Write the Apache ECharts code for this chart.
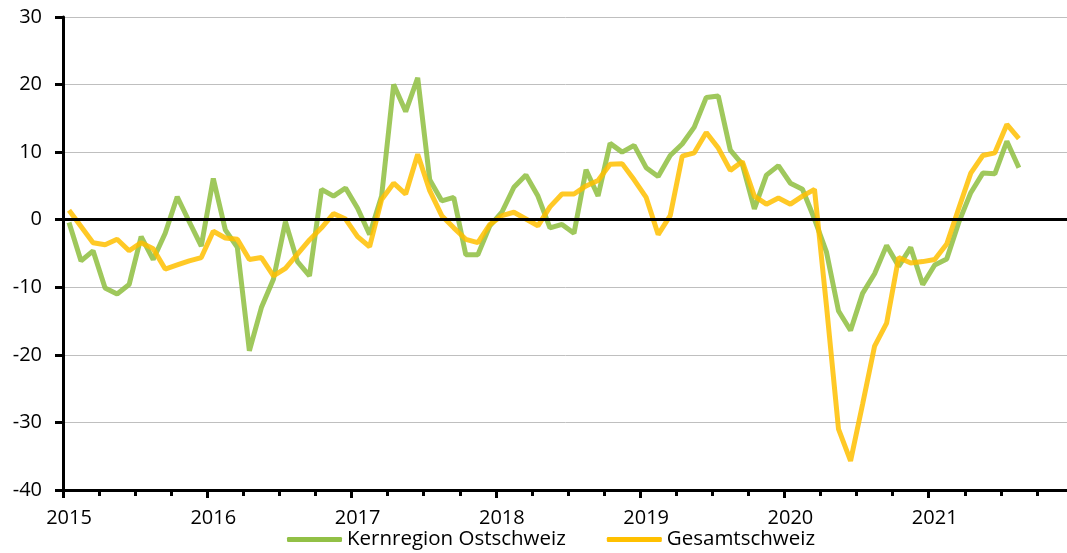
<!DOCTYPE html>
<html>
<head>
<meta charset="utf-8">
<script src="https://cdn.jsdelivr.net/npm/echarts@6/dist/echarts.min.js"></script>
<style>
  html, body { margin: 0; padding: 0; background: #fff; }
  #chart { width: 1067px; height: 553px; }
</style>
</head>
<body>
<div id="chart"></div>
<script>
// monthly values, Jan 2015 - Aug 2021
var startYear = 2015;
var seriesNames = ['Kernregion Ostschweiz', 'Gesamtschweiz'];
var ostschweiz = [
  -0.4, -6.1, -4.6, -10.1, -11.0, -9.6, -2.5, -5.9, -2.0, 3.4, -0.3, -3.9,
  6.1, -1.5, -4.1, -19.4, -13.0, -8.8, -0.3, -6.2, -8.3, 4.5, 3.5, 4.7,
  1.7, -2.2, 3.5, 20.0, 16.0, 21.0, 5.9, 2.8, 3.3, -5.2, -5.2, -0.9,
  1.1, 4.8, 6.6, 3.5, -1.2, -0.7, -2.0, 7.4, 3.5, 11.3, 10.0, 11.0,
  7.7, 6.4, 9.5, 11.2, 13.7, 18.1, 18.3, 10.3, 8.2, 1.6, 6.6, 8.0,
  5.4, 4.5, 0.1, -4.8, -13.5, -16.4, -10.9, -8.0, -3.8, -6.9, -4.1, -9.6,
  -6.7, -5.8, -0.4, 4.0, 6.9, 6.8, 11.6, 7.7
];
var gesamtschweiz = [
  1.4, -1.0, -3.4, -3.7, -2.9, -4.6, -3.4, -4.3, -7.3, -6.7, -6.1, -5.6,
  -1.7, -2.7, -2.9, -5.9, -5.6, -8.3, -7.2, -5.1, -3.0, -1.2, 0.9, 0.1,
  -2.5, -4.0, 3.0, 5.4, 3.8, 9.7, 4.3, 0.6, -1.2, -2.9, -3.4, -0.7,
  0.6, 1.1, 0.1, -0.9, 1.9, 3.8, 3.8, 5.0, 5.8, 8.2, 8.3, 5.9,
  3.3, -2.2, 0.6, 9.4, 9.9, 12.9, 10.6, 7.3, 8.6, 3.5, 2.3, 3.2,
  2.3, 3.5, 4.5, -12.8, -31.0, -35.7, -27.3, -18.7, -15.3, -5.6, -6.4, -6.2,
  -5.9, -3.6, 1.7, 6.9, 9.5, 9.9, 14.1, 12.0
];
var yTicks = [-40, -30, -20, -10, 0, 10, 20, 30];

// place each month in the middle of its slot on a year scale
function toPoints(values) {
  var pts = [];
  for (var i = 0; i < values.length; i++) {
    pts.push([startYear + (i + 0.5) / 12, values[i]]);
  }
  return pts;
}

var fontName = 'Open Sans';
var chart = echarts.init(document.getElementById('chart'));
chart.setOption({
  animation: false,
  grid: { left: 63, right: -6, top: 17, bottom: 63, outerBoundsMode: 'none', containLabel: false },
  xAxis: {
    type: 'value',
    min: 2015,
    max: 2022,
    interval: 1,
    axisLine: { onZero: false, lineStyle: { color: '#000', width: 3 } },
    axisTick: { show: true, length: 8, lineStyle: { color: '#000', width: 3 } },
    minorTick: { show: true, splitNumber: 4, length: 6, lineStyle: { color: '#000', width: 3 } },
    splitLine: { show: false },
    axisLabel: {
      margin: 18,
      color: '#000',
      fontFamily: fontName,
      fontSize: 20,
      padding: [0, 0, 0, 12],
      formatter: function (v) { return v < 2022 ? String(v) : ''; }
    }
  },
  yAxis: {
    type: 'value',
    min: yTicks[0],
    max: yTicks[yTicks.length - 1],
    interval: 10,
    axisLine: { show: true, lineStyle: { color: '#000', width: 3 } },
    axisTick: { show: true, length: 8, lineStyle: { color: '#000', width: 3 } },
    splitLine: { show: true, lineStyle: { color: '#bfbfbf', width: 1 } },
    axisLabel: { margin: 21, color: '#000', fontFamily: fontName, fontSize: 20 }
  },
  legend: {
    data: seriesNames,
    left: 287,
    top: 529,
    padding: 0,
    itemWidth: 55,
    itemHeight: 5,
    itemGap: 41,
    icon: 'roundRect',
    textStyle: { color: '#000', fontFamily: fontName, fontSize: 20.5 }
  },
  series: [
    {
      name: 'zero',
      type: 'line',
      data: [],
      z: 1,
      silent: true,
      markLine: {
        silent: true,
        symbol: 'none',
        label: { show: false },
        lineStyle: { color: '#000', width: 3, type: 'solid' },
        data: [{ yAxis: 0 }]
      }
    },
    {
      name: seriesNames[0],
      type: 'line',
      data: toPoints(ostschweiz),
      showSymbol: false,
      z: 3,
      color: '#92c046',
      lineStyle: { width: 5, color: '#92c046', opacity: 0.88 }
    },
    {
      name: seriesNames[1],
      type: 'line',
      data: toPoints(gesamtschweiz),
      showSymbol: false,
      z: 4,
      color: '#ffc000',
      lineStyle: { width: 5, color: '#ffc000', opacity: 0.85 }
    }
  ]
});
</script>
</body>
</html>
